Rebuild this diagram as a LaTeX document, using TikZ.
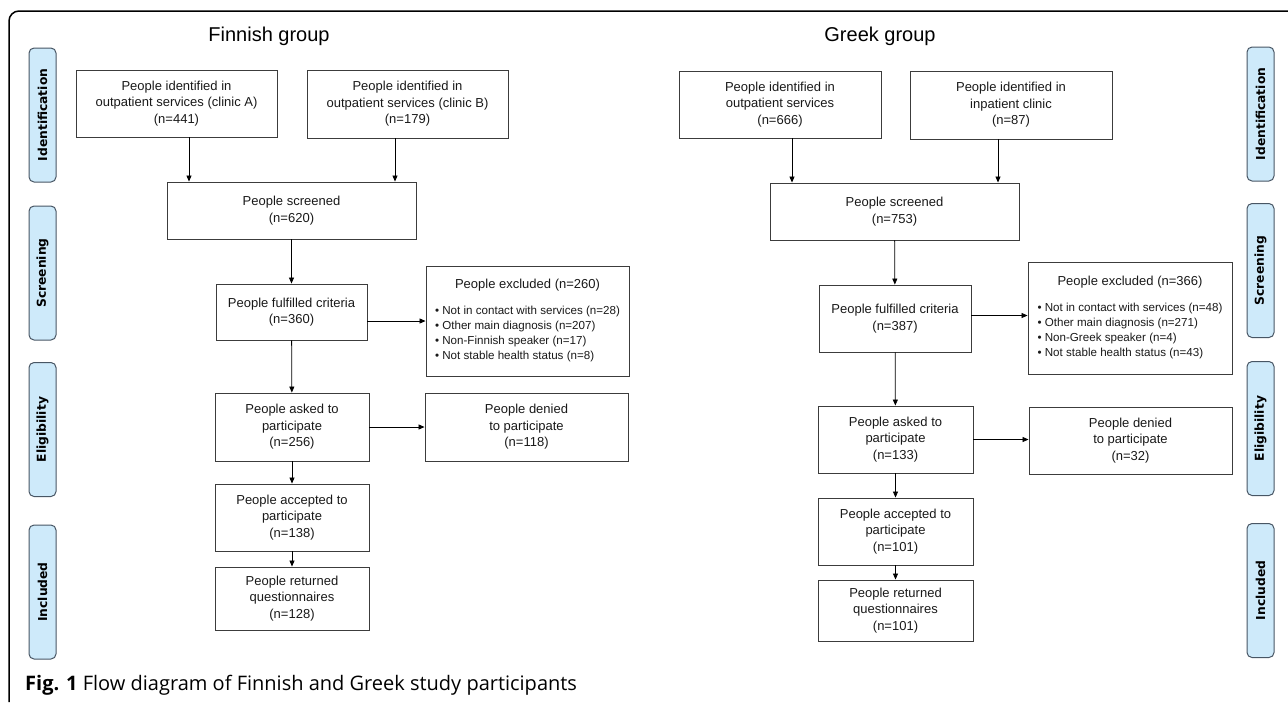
\documentclass[tikz,border=0pt]{standalone}
\usepackage{fontspec}
\setmainfont{Liberation Sans}
\newfontfamily\stagefont{DejaVu Sans}
\newfontfamily\capfont{Open Sans}
\usetikzlibrary{arrows.meta}

\definecolor{stagefill}{RGB}{206,234,250}
\definecolor{stageline}{RGB}{72,86,100}
\definecolor{boxline}{RGB}{60,60,60}

\tikzset{
  box/.style={draw=boxline, line width=0.9pt, align=center, inner sep=2pt, text=black!90, font=\fontsize{13}{16.5}\selectfont},
  exclbox/.style={box, font=\fontsize{11.6}{15}\selectfont},
  stage/.style={draw=stageline, fill=stagefill, line width=1pt, rounded corners=5pt, rotate=90, minimum width=134pt, minimum height=27pt, inner sep=0pt, font=\stagefont\bfseries\fontsize{12.3}{14}\selectfont},
  arr/.style={-{Triangle[length=6pt,width=5pt]}, line width=0.8pt},
}

\begin{document}
\begin{tikzpicture}[x=1pt,y=1pt,yscale=-1,xscale=1]
\useasboundingbox (0,0) rectangle (1288,702);

%Frame
\draw [line width=1.5pt, rounded corners=10pt] (9,702) -- (9,11) -- (1288,11) ;

% Stage labels, left
\node [stage] (lId) at (42.5,115) {Identification};
\node [stage] (lScr) at (42.5,273) {Screening};
\node [stage] (lEli) at (42.5,429.5) {Eligibility};
\node [stage] (lInc) at (42.5,592) {Included};
% Stage labels, right
\node [stage] (rId) at (1260.5,114) {Identification};
\node [stage] (rScr) at (1260.5,270.5) {Screening};
\node [stage] (rEli) at (1260.5,428.5) {Eligibility};
\node [stage] (rInc) at (1260.5,590.5) {Included};

% Titles
\node [font=\fontsize{20}{24}\selectfont] (fTitle) at (269,36) {Finnish group};
\node [font=\fontsize{20}{24}\selectfont] (gTitle) at (880,36) {Greek group};

% Finnish group
\node [box, minimum width=201pt, minimum height=67pt] (fIdA) at (176.5,103.5) {People identified in\\outpatient services (clinic A)\\(n=441)};
\node [box, minimum width=201pt, minimum height=68pt] (fIdB) at (407.5,104) {People identified in\\outpatient services (clinic B)\\(n=179)};
\node [box, minimum width=249pt, minimum height=57pt] (fScr) at (291.5,210.5) {People screened\\(n=620)};
\node [box, minimum width=151pt, minimum height=56pt] (fFul) at (291.5,312) {People fulfilled criteria\\(n=360)};
\node [exclbox, minimum width=203pt, minimum height=110pt] (fExc) at (527.5,321) {\begin{tabular}{@{}l@{}}\multicolumn{1}{@{}c@{}}{\fontsize{13}{15}\selectfont People excluded (n=260)}\\[11pt]
• Not in contact with services (n=28)\\
• Other main diagnosis (n=207)\\
• Non-Finnish speaker (n=17)\\
• Not stable health status (n=8)\end{tabular}};
\node [box, minimum width=154pt, minimum height=68pt] (fAsk) at (292,427) {People asked to\\participate\\(n=256)};
\node [box, minimum width=203pt, minimum height=68pt] (fDen) at (526.5,427) {People denied\\to participate\\(n=118)};
\node [box, minimum width=154pt, minimum height=67pt] (fAcc) at (292,517.5) {People accepted to\\participate\\(n=138)};
\node [box, minimum width=154pt, minimum height=63pt] (fRet) at (292,598.5) {People returned\\questionnaires\\(n=128)};

\draw [arr] ([xshift=12.5pt]fIdA.south) -- ([xshift=12.5pt]fIdA.south |- fScr.north) ;
\draw [arr] ([xshift=-12.5pt]fIdB.south) -- ([xshift=-12.5pt]fIdB.south |- fScr.north) ;
\draw [arr] (fScr) -- (fFul) ;
\draw [arr] (fFul.east |- fExc.west) -- (fExc.west) ;
\draw [arr] (fFul) -- (fAsk) ;
\draw [arr] (fAsk) -- (fDen) ;
\draw [arr] (fAsk) -- (fAcc) ;
\draw [arr] (fAcc) -- (fRet) ;

% Greek group
\node [box, minimum width=202pt, minimum height=67pt] (gIdO) at (780,104.5) {People identified in\\outpatient services\\(n=666)};
\node [box, minimum width=202pt, minimum height=68pt] (gIdI) at (1011,105) {People identified in\\inpatient clinic\\(n=87)};
\node [box, minimum width=249pt, minimum height=57pt] (gScr) at (894.5,211.5) {People screened\\(n=753)};
\node [box, minimum width=152pt, minimum height=67pt] (gFul) at (895,318.5) {People fulfilled criteria\\(n=387)};
\node [exclbox, minimum width=204pt, minimum height=112pt] (gExc) at (1130,318) {\begin{tabular}{@{}l@{}}\multicolumn{1}{@{}c@{}}{\fontsize{13}{15}\selectfont People excluded (n=366)}\\[11pt]
• Not in contact with services (n=48)\\
• Other main diagnosis (n=271)\\
• Non-Greek speaker (n=4)\\
• Not stable health status (n=43)\end{tabular}};
\node [box, minimum width=155pt, minimum height=67pt] (gAsk) at (895.5,439.5) {People asked to\\participate\\(n=133)};
\node [box, minimum width=203pt, minimum height=67pt] (gDen) at (1130.5,440.5) {People denied\\to participate\\(n=32)};
\node [box, minimum width=155pt, minimum height=67pt] (gAcc) at (895.5,531.5) {People accepted to\\participate\\(n=101)};
\node [box, minimum width=155pt, minimum height=61pt] (gRet) at (895.5,610.5) {People returned\\questionnaires\\(n=101)};

\draw [arr] ([xshift=12pt]gIdO.south) -- ([xshift=12pt]gIdO.south |- gScr.north) ;
\draw [arr] ([xshift=-13pt]gIdI.south) -- ([xshift=-13pt]gIdI.south |- gScr.north) ;
\draw [arr] (gScr) -- (gFul) ;
\draw [arr] ([yshift=-3pt]gFul.east) -- ([yshift=-3pt]gFul.east -| gExc.west) ;
\draw [arr] (gFul) -- (gAsk) ;
\draw [arr] (gAsk.east) -- (gAsk.east -| gDen.west) ;
\draw [arr] (gAsk) -- (gAcc) ;
\draw [arr] (gAcc) -- (gRet) ;

% Caption
\node [anchor=base west, inner sep=0pt, font=\capfont\fontsize{20}{23}\selectfont] (caption) at (25,690) {\textbf{Fig. 1} Flow diagram of Finnish and Greek study participants};
\end{tikzpicture}
\end{document}
